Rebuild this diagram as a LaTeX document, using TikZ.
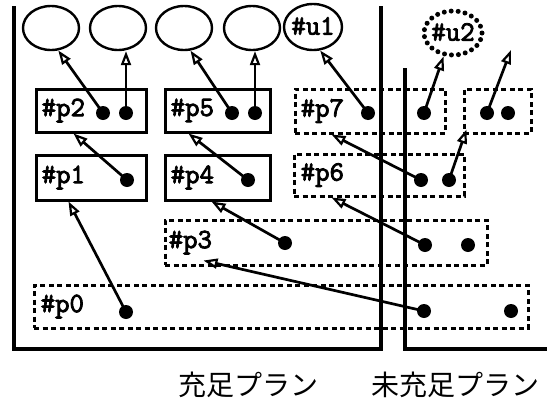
\documentclass[tikz,border=0pt]{standalone}
\usepackage{fontspec}
\newfontfamily\jpfont{Noto Sans CJK JP}
\newfontfamily\lblfont{Latin Modern Mono}[FakeBold=3]
\usetikzlibrary{arrows.meta,shapes.geometric}
\begin{document}
\begin{tikzpicture}[x=1pt,y=-1pt,
  frame/.style={line width=4pt},
  pbox/.style={draw, rectangle, line width=3pt, inner sep=0pt},
  dbox/.style={pbox, dash pattern=on 5pt off 3.5pt},
  dot/.style={circle, fill=black, inner sep=0pt, minimum size=14pt},
  ell/.style={draw, ellipse, line width=2.4pt, inner sep=0pt},
  dell/.style={ell, line width=5pt, dash pattern=on 0pt off 7pt, line cap=round},
  lbl/.style={font=\lblfont\fontsize{28}{28}\selectfont, inner sep=0pt, anchor=west},
  jp/.style={font=\jpfont\fontsize{28}{28}\selectfont, inner sep=0pt},
  arr/.style={line width=2.7pt, -{Triangle[open, length=14pt, width=10pt, line width=2.2pt]}}
]
\useasboundingbox (0,0) rectangle (547,410);

% frames
\draw[frame] (14,6) -- (14,349) -- (381,349) -- (381,6);
\draw[frame] (405,68) -- (405,349) -- (547,349);

% top ellipses
\node[ell, minimum width=56pt, minimum height=44pt] (e1) at (51,28) {};
\node[ell, minimum width=56pt, minimum height=44pt] (e2) at (118,28) {};
\node[ell, minimum width=56pt, minimum height=44pt] (e3) at (184,28) {};
\node[ell, minimum width=56pt, minimum height=44pt] (e4) at (252,28) {};
\node[ell, minimum width=58pt, minimum height=46pt] (u1) at (313,27) {};
\node[lbl, anchor=center] (u1l) at (313,26) {\#u1};
\node[dell, minimum width=58pt, minimum height=44pt] (u2) at (453,33) {};
\node[lbl, anchor=center] (u2l) at (453,32) {\#u2};

% boxes
\node[pbox, minimum width=110pt, minimum height=43pt] (p2) at (91,110.5) {};
\node[pbox, minimum width=105pt, minimum height=43pt] (p5) at (217.5,110.5) {};
\node[pbox, minimum width=110pt, minimum height=45pt] (p1) at (91,177.5) {};
\node[pbox, minimum width=105pt, minimum height=45pt] (p4) at (217.5,177.5) {};
\node[dbox, minimum width=150pt, minimum height=44pt] (p7) at (370,111) {};
\node[dbox, minimum width=67pt, minimum height=44pt] (q) at (497.5,111) {};
\node[dbox, minimum width=170pt, minimum height=42pt] (p6) at (379,175) {};
\node[dbox, minimum width=322pt, minimum height=45pt] (p3) at (326,242.5) {};
\node[dbox, minimum width=494pt, minimum height=43pt] (p0) at (281,306.5) {};

% labels
\node[lbl] (p2l) at ([xshift=7pt]p2.west) {\#p2};
\node[lbl] (p5l) at ([xshift=7pt]p5.west) {\#p5};
\node[lbl] (p1l) at ([xshift=7pt]p1.west) {\#p1};
\node[lbl] (p4l) at ([xshift=7pt]p4.west) {\#p4};
\node[lbl] (p7l) at ([xshift=7pt]p7.west) {\#p7};
\node[lbl] (p6l) at ([xshift=8pt]p6.west) {\#p6};
\node[lbl] (p3l) at ([xshift=5pt]p3.west) {\#p3};
\node[lbl] (p0l) at ([xshift=8pt]p0.west) {\#p0};

% dots
\node[dot] (p2a) at (103,113) {};
\node[dot] (p2b) at (126,113) {};
\node[dot] (p5a) at (232,113) {};
\node[dot] (p5b) at (255,113) {};
\node[dot] (p1a) at (127,180) {};
\node[dot] (p4a) at (248,180) {};
\node[dot] (p7a) at (368,113) {};
\node[dot] (p7b) at (424,113) {};
\node[dot] (qa) at (487,113) {};
\node[dot] (qb) at (508,113) {};
\node[dot] (p6a) at (421,180) {};
\node[dot] (p6b) at (449,180) {};
\node[dot] (p3a) at (285,243) {};
\node[dot] (p3b) at (425,245) {};
\node[dot] (p3c) at (468,245) {};
\node[dot] (p0a) at (126,312) {};
\node[dot] (p0b) at (424,311) {};
\node[dot] (p0c) at (511,311) {};

\coordinate (qend) at (511,50);

% arrows
\draw[arr] (p2a.center) -- (e1.-72);
\draw[arr] (p2b.center) -- (p2b |- e2.south);
\draw[arr] (p5a.center) -- (e3.-74);
\draw[arr] (p5b.center) -- (p5b |- e4.south);
\draw[arr] (p1a.center) -- ([xshift=39pt]p2.south west);
\draw[arr] (p4a.center) -- ([xshift=25pt]p5.south west);
\draw[arr] (p0a.center) -- ([xshift=34pt]p1.south west);
\draw[arr] (p3a.center) -- ([xshift=48pt]p4.south west);
\draw[arr] (p0b.center) -- ([xshift=40pt,yshift=6pt]p3.south west);
\draw[arr] (p7a.center) -- (u1.-73);
\draw[arr] (p7b.center) -- (u2.-112);
\draw[arr] (qa.center) -- (qend);
\draw[arr] (p6a.center) -- ([xshift=38pt]p7.south west);
\draw[arr] (p6b.center) -- ([xshift=4pt,yshift=5pt]q.south west);
\draw[arr] (p3b.center) -- ([xshift=39pt]p6.south west);

% captions
\node[jp] (c1) at (248,385) {充足プラン};
\node[jp] (c2) at (455,385) {未充足プラン};
\end{tikzpicture}
\end{document}
